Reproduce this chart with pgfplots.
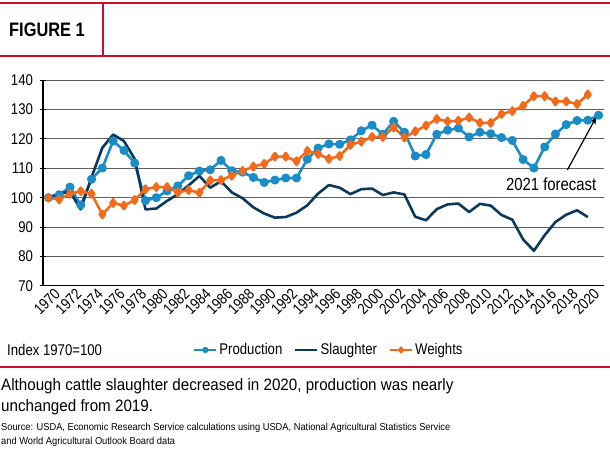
\documentclass[border=0pt]{standalone}
\usepackage{pgfplots}
\pgfplotsset{compat=1.18}
\usepackage{pgfplotstable}
\usepackage{fontspec}
\usetikzlibrary{arrows.meta}
\setmainfont{Liberation Sans}[FakeStretch=0.85]
\newfontfamily\capfont{Liberation Sans}[FakeStretch=0.92]
\newfontfamily\figfont{Liberation Sans}[FakeStretch=0.84]
\definecolor{prodblue}{RGB}{27,141,198}
\definecolor{slnavy}{RGB}{12,56,90}
\definecolor{wtorange}{RGB}{242,106,27}
\definecolor{figred}{RGB}{200,16,46}
\definecolor{gridgray}{RGB}{95,95,95}

\pgfplotstableread{
year val
1970 100
1971 101
1972 103.6
1973 97.5
1974 106.3
1975 110.1
1976 119.3
1977 116.1
1978 111.8
1979 99
1980 100
1981 102.3
1982 104
1983 107.5
1984 109.1
1985 109.5
1986 112.7
1987 109.2
1988 108.7
1989 106.9
1990 105.2
1991 106
1992 106.7
1993 106.7
1994 113.1
1995 116.9
1996 118.3
1997 118.2
1998 119.7
1999 122.8
2000 124.7
2001 121.6
2002 126
2003 122.3
2004 114.2
2005 114.7
2006 121.6
2007 123
2008 123.7
2009 120.7
2010 122.3
2011 121.8
2012 120.5
2013 119.5
2014 113
2015 110.1
2016 117.3
2017 121.7
2018 124.9
2019 126.3
2020 126.4
2021 128.1
}\production

\pgfplotstableread{
year val
1970 100
1971 101.4
1972 102
1973 96
1974 107
1975 117
1976 121.5
1977 119.3
1978 113.2
1979 96
1980 96.3
1981 98.9
1982 101.2
1983 104.2
1984 107.4
1985 103.4
1986 105.6
1987 101.8
1988 99.8
1989 96.7
1990 94.6
1991 93.2
1992 93.4
1993 94.9
1994 97.4
1995 101.4
1996 104.3
1997 103.4
1998 101.2
1999 102.9
2000 103.1
2001 100.9
2002 101.8
2003 101.1
2004 93.5
2005 92.3
2006 96.1
2007 97.7
2008 98
2009 95.1
2010 97.9
2011 97.3
2012 94.1
2013 92.5
2014 85.8
2015 81.9
2016 87.2
2017 91.7
2018 94.2
2019 95.7
2020 93.4
}\slaughter

\pgfplotstableread{
year val
1970 100
1971 99.4
1972 101.3
1973 102.2
1974 101.3
1975 94.3
1976 98.2
1977 97.3
1978 99.2
1979 102.9
1980 103.6
1981 103.6
1982 101.8
1983 102.6
1984 101.7
1985 105.9
1986 106
1987 107.5
1988 109.1
1989 110.6
1990 111.5
1991 114
1992 114
1993 112.4
1994 115.9
1995 114.9
1996 113.2
1997 114.2
1998 118
1999 119.1
2000 120.7
2001 120.7
2002 124
2003 120.5
2004 122.6
2005 124.6
2006 126.8
2007 126
2008 126.2
2009 127.3
2010 125.5
2011 125.5
2012 128.5
2013 129.5
2014 131.3
2015 134.6
2016 134.6
2017 132.8
2018 132.8
2019 131.9
2020 135.2
}\weights

\begin{document}
\begin{tikzpicture}[x=1pt,y=1pt]
\useasboundingbox (0,0) rectangle (610,-450);
% header
\draw[figred, line width=2pt] (0,-3) -- (610,-3);
\draw[figred, line width=2pt] (0,-55.5) -- (610,-55.5);
\draw[figred, line width=1.5pt] (103,-3) -- (103,-55.5);
\node[anchor=west, inner sep=0pt] at (9,-30) {\figfont\bfseries\fontsize{19.5}{22}\selectfont FIGURE 1};

\begin{axis}[
  at={(43pt,-285.7pt)}, anchor=south west,
  scale only axis, width=561pt, height=205.4pt,
  xmin=1969.5, xmax=2021.5, ymin=70, ymax=140,
  xtick={1970,1972,...,2020}, ytick={70,80,...,140},
  axis x line*=bottom, axis y line*=left,
  axis line style={black, line width=1.5pt, -},
  ymajorgrids, grid style={gridgray, line width=1pt},
  xtick style={draw=none},
  ytick style={black, line width=1pt},
  tick align=center, major tick length=7pt,
  /pgf/number format/assume math mode=true,
  xticklabel style={/pgf/number format/1000 sep={}, rotate=45, anchor=north east, inner sep=1pt, xshift=6pt, yshift=-1pt},
  yticklabel style={xshift=-3pt},
  tick label style={font=\fontsize{15.5}{17}\selectfont},
  legend style={at={(0.2674,-0.313)}, anchor=west, draw=none, fill=none,
    legend columns=3, font=\fontsize{15.5}{17}\selectfont, inner xsep=0pt,
    /tikz/every even column/.append style={column sep=10pt},
    legend cell align=left},
  clip=false,
]
\addplot[prodblue, line width=2.6pt, line join=round, mark=*, mark size=3.2pt,
  legend image code/.code={\draw[line width=2.2pt, mark size=2pt, mark repeat=2, mark phase=2] plot coordinates {(0pt,0pt) (11pt,0pt) (22pt,0pt)};}]
  table[x=year, y=val] {\production};
\addlegendentry{Production}
\addplot[slnavy, line width=2.6pt, line join=round, no marks,
  legend image code/.code={\draw[line width=2.2pt] (0pt,0pt) -- (22pt,0pt);}]
  table[x=year, y=val] {\slaughter};
\addlegendentry{Slaughter}
\addplot[wtorange, line width=2.6pt, line join=round, mark=diamond*, mark size=3.6pt,
  legend image code/.code={\draw[line width=2.2pt, mark size=2.4pt, mark repeat=2, mark phase=2] plot coordinates {(0pt,0pt) (11pt,0pt) (22pt,0pt)};}]
  table[x=year, y=val] {\weights};
\addlegendentry{Weights}
\node[font=\fontsize{17.5}{20}\selectfont] at (axis cs:2016.6,104.7) {2021 forecast};
\draw[black, line width=1.2pt, -{Stealth[length=8pt,width=6pt]}] (axis cs:2018.1,109.4) -- (axis cs:2020.8,127.6);
\end{axis}

\node[anchor=west, inner sep=0pt, font=\fontsize{15.5}{17}\selectfont] at (7,-350) {Index 1970=100};
\draw[figred, line width=2pt] (0,-367) -- (610,-367);
\node[anchor=base west, inner sep=0pt, font=\capfont\fontsize{16.5}{19}\selectfont] at (1,-390.7) {Although cattle slaughter decreased in 2020, production was nearly};
\node[anchor=base west, inner sep=0pt, font=\capfont\fontsize{16.5}{19}\selectfont] at (1,-411.7) {unchanged from 2019.};
\node[anchor=base west, inner sep=0pt, font=\capfont\fontsize{10.1}{12}\selectfont] at (1,-430) {Source: USDA, Economic Research Service calculations using USDA, National Agricultural Statistics Service};
\node[anchor=base west, inner sep=0pt, font=\capfont\fontsize{10.1}{12}\selectfont] at (1,-444) {and World Agricultural Outlook Board data};
\end{tikzpicture}
\end{document}
